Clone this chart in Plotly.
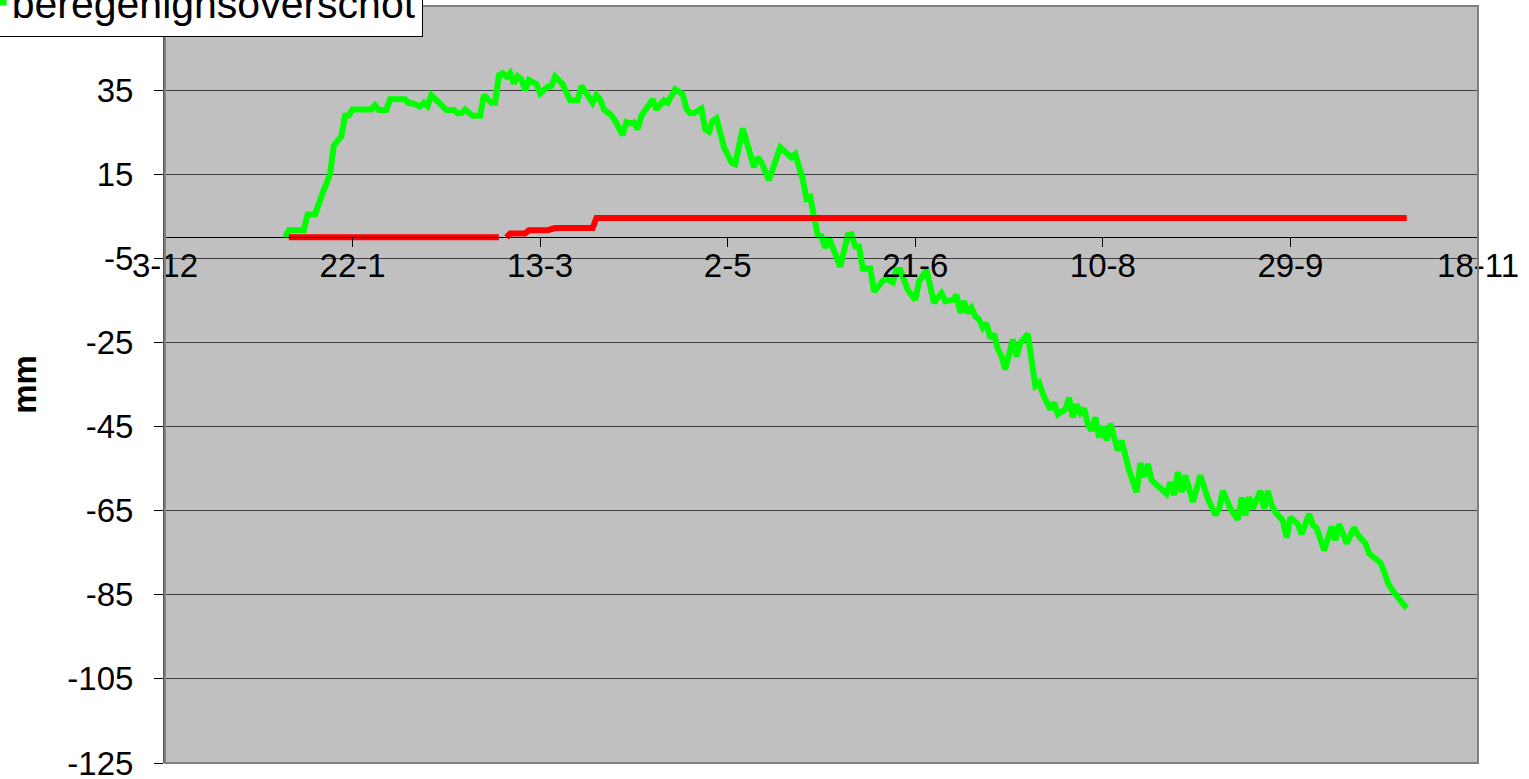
import pandas as pd
import plotly.graph_objects as go

# dagen vanaf 3-12 (x-as loopt van 3-12 tot 18-11, stappen van 50 dagen)
start = pd.Timestamp("2005-12-03")

dag_groen = [32, 33, 37, 38, 40, 41, 42, 43, 44, 45, 46, 47, 48, 49, 50, 55, 56, 57, 59, 60,
             64, 65, 66, 68, 69, 70, 71, 72, 75, 77, 78, 79, 80, 82, 84, 85, 87, 88, 89, 90,
             91, 92, 93, 94, 95, 96, 97, 99, 100, 102, 103, 104, 106, 108, 110, 111, 113, 114, 115, 116,
             117, 119, 120, 121, 122, 123, 124, 125, 126, 127, 128, 130, 131, 133, 134, 136, 138, 139, 140, 141,
             143, 144, 145, 146, 147, 149, 151, 152, 154, 157, 158, 159, 161, 164, 167, 168, 170, 171, 172, 174,
             175, 176, 177, 180, 182, 183, 184, 185, 186, 188, 189, 191, 192, 194, 195, 196, 198, 200, 201, 203,
             205, 207, 208, 210, 211, 212, 213, 214, 215, 216, 217, 218, 219, 220, 221, 222, 223, 224, 226, 227,
             228, 230, 231, 232, 233, 234, 236, 237, 238, 240, 241, 242, 243, 244, 245, 246, 247, 248, 249, 250,
             251, 252, 253, 254, 255, 257, 259, 260, 261, 262, 263, 265, 267, 268, 269, 270, 271, 272, 274, 276,
             278, 280, 281, 282, 284, 286, 287, 288, 289, 290, 292, 293, 294, 295, 296, 298, 299, 300, 302, 303,
             305, 306, 307, 309, 311, 312, 313, 315, 317, 318, 320, 321, 324, 325, 326, 327, 328, 329, 331]

groen = [0, 1.7, 1.7, 5.4, 5.4, 8.4, 10.5, 12.7, 15.1, 21.8, 22.8, 24.0, 28.9, 29.0, 30.4, 30.4, 31.4, 30.3, 30.3, 32.8,
         32.8, 31.9, 31.9, 31.1, 32.0, 31.2, 33.8, 32.8, 30.3, 30.3, 29.5, 29.5, 30.4, 28.9, 28.9, 33.8, 32.0, 32.0, 38.5, 39.0,
         38.2, 39.1, 36.6, 38.3, 37.5, 35.0, 37.4, 36.4, 34.2, 35.8, 36.0, 38.2, 36.4, 32.6, 32.6, 36.0, 33.4, 32.0, 33.8, 32.8,
         30.4, 29.0, 27.7, 26.1, 24.3, 27.4, 27.1, 27.3, 25.7, 28.9, 30.4, 32.8, 30.4, 32.6, 32.0, 35.2, 34.0, 30.6, 29.5, 29.5,
         30.6, 25.7, 25.1, 27.7, 28.3, 21.4, 17.8, 17.4, 25.9, 16.7, 19.0, 17.8, 13.6, 21.4, 19.0, 19.8, 13.9, 9.2, 9.6, 0.5,
         0.2, -2.5, -0.1, -7.0, 0.5, 0.7, -2.2, -2.2, -7.4, -7.4, -12.9, -10.9, -9.7, -10.7, -7.8, -7.8, -12.5, -14.9, -10.5, -7.8,
         -15.6, -13.3, -15.2, -14.9, -13.7, -18.0, -15.2, -18.0, -16.8, -18.8, -19.5, -21.5, -20.5, -24.0, -23.0, -26.5, -28.3, -31.4, -24.3, -28.3,
         -25.1, -23.0, -29.4, -35.3, -34.6, -37.3, -40.9, -39.3, -42.1, -40.9, -38.1, -42.8, -39.7, -41.7, -40.7, -44.4, -46.0, -42.8, -47.6, -45.0,
         -48.3, -44.3, -47.6, -50.7, -48.3, -55.4, -60.6, -53.7, -57.0, -53.9, -57.8, -59.4, -61.0, -58.2, -61.3, -55.8, -60.6, -56.6, -62.9, -56.6,
         -62.2, -66.0, -64.5, -60.3, -64.5, -67.1, -61.9, -66.1, -61.8, -64.5, -60.3, -64.5, -60.3, -63.7, -65.3, -67.4, -71.4, -66.6, -68.2, -70.6,
         -65.8, -68.4, -69.2, -74.4, -68.8, -72.0, -68.2, -72.8, -69.0, -70.8, -72.8, -75.2, -77.4, -79.5, -82.2, -83.7, -85.0, -86.0, -88.2]

dag_rood = [33, 89, 90, 91, 92, 96, 97, 102, 104, 114, 115, 331]
rood = [0, 0, None, 0, 0.9, 0.9, 1.7, 1.7, 2.2, 2.2, 4.6, 4.6]

y_ticks = [-125, -105, -85, -65, -45, -25, -5, 15, 35]
y_labels = ["-125", "-105", "-85", "-65", "-45", "-25", "-5", "15", "35"]

assert len(dag_groen) == len(groen)

datum_groen = start + pd.to_timedelta(dag_groen, unit="D")
datum_rood = start + pd.to_timedelta(dag_rood, unit="D")

font = "Arial, Liberation Sans, sans-serif"

fig = go.Figure()
fig.add_trace(go.Scatter(x=datum_groen, y=groen, mode="lines", name="beregenignsoverschot",
                         line=dict(color="#00FF00", width=6)))
fig.add_trace(go.Scatter(x=datum_rood, y=rood, mode="lines", showlegend=False, connectgaps=False,
                         line=dict(color="#FF0000", width=6)))

fig.update_layout(
    width=1529, height=779,
    margin=dict(l=165, r=51, t=6, b=16, autoexpand=False),
    paper_bgcolor="white", plot_bgcolor="#C0C0C0",
    font=dict(family=font, size=33, color="black"),
    xaxis=dict(type="date", range=[start, start + pd.Timedelta(days=350)],
               tick0=start, dtick=50 * 86400000, tickformat="%-d-%-m",
               ticks="outside", ticklen=9, tickcolor="black", showgrid=False,
               showline=True, linecolor="black", linewidth=1, zeroline=False,
               anchor="free", position=125 / 180, ticklabelstandoff=-10),
    yaxis=dict(range=[-125, 55], tickvals=y_ticks, ticktext=y_labels, ticks="outside", ticklen=9,
               tickcolor="black", showgrid=True, gridcolor="#404040", gridwidth=1,
               showline=True, linecolor="#505050", linewidth=2, zeroline=False,
               ticklabelstandoff=14, ticklabeloverflow="allow",
               title=dict(text="<b>mm</b>", font=dict(size=33), standoff=21)),
    legend=dict(x=-0.148, xanchor="left", y=0.959, yanchor="bottom",
                bgcolor="white", bordercolor="black", borderwidth=1,
                font=dict(size=41)),
    shapes=[dict(type="rect", xref="paper", yref="paper", x0=0, x1=1, y0=0, y1=1,
                 line=dict(color="#808080", width=2), layer="above")],
)

fig.write_html("out.html", config={"displayModeBar": False},
               post_script="document.body.style.margin='0';")
